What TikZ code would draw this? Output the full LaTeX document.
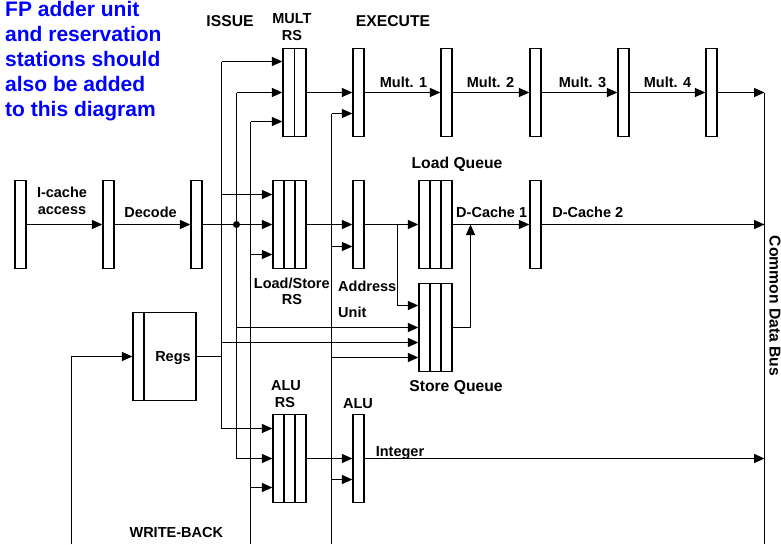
\documentclass[tikz,border=0pt]{standalone}
\usepackage{fontspec}
\setsansfont{Liberation Sans}
\usepackage{tikz}
\usetikzlibrary{arrows.meta,positioning,calc}

\tikzset{
  wire/.style={line width=1.3pt},
  feed/.style={wire, -{Triangle[length=10.5pt,width=9pt]}},
  latch/.style={draw, line width=1.3pt, minimum width=11pt, minimum height=88pt, inner sep=0pt},
  cells/.style={path picture={\foreach \f in {#1}
      \draw[line width=1.3pt] ($(path picture bounding box.north west)!\f!(path picture bounding box.north east)$)
        -- ($(path picture bounding box.south west)!\f!(path picture bounding box.south east)$);}},
  rsbox/.style={latch, minimum width=33pt, cells={0.333,0.667}},
  lbl/.style={font=\sffamily\bfseries\fontsize{14.5}{16}\selectfont, inner sep=0pt, anchor=base},
  head/.style={lbl, font=\sffamily\bfseries\fontsize{15.7}{17}\selectfont},
  note/.style={font=\sffamily\bfseries\fontsize{21}{25}\selectfont, text=blue, inner sep=0pt, anchor=base west}
}

\begin{document}
\begin{tikzpicture}[x=1pt, y=-1pt]
    \useasboundingbox (0,0) rectangle (781,544);

    % remark in the corner
    \foreach \txt [count=\i] in {FP adder unit, and reservation, stations should, also be added, to this diagram}
      \node[note] (note\i) at (5, {16+25.2*(\i-1)}) {\txt};

    % stage headings
    \node[head] (issuelbl) at (230,26.5) {ISSUE};
    \node[lbl] (multlbl) at (292,23.5) {MULT};
    \node[lbl] (multrslbl) at (292,40) {RS};
    \node[head] (execlbl) at (393,26.5) {EXECUTE};
    \node[lbl] (wblbl) at (176.3,537) {WRITE-BACK};

    % front end
    \node[latch] (ic) at (20.5,224.5) {};
    \node[latch] (dec) at (108.5,224.5) {};
    \node[latch] (iss) at (196.5,224.5) {};
    \node[lbl] (iclbl1) at (62,197) {I-cache};
    \node[lbl] (iclbl2) at (62,214) {access};
    \node[lbl] (declbl) at (150.5,217) {Decode};

    % multiplier pipe
    \node[latch, minimum width=23pt, cells={0.5}] (multrs) at (294.5,92.5) {};
    \node[latch] (ex) at (358.5,92.5) {};
    \node[latch] (m1) at (446.5,92.5) {};
    \node[latch] (m2) at (535.5,92.5) {};
    \node[latch] (m3) at (623.5,92.5) {};
    \node[latch] (m4) at (711.5,92.5) {};
    \node[lbl] (m1lbl) at (403.5,87) {Mult. 1};
    \node[lbl] (m2lbl) at (490.5,87) {Mult. 2};
    \node[lbl] (m3lbl) at (582.5,87) {Mult. 3};
    \node[lbl] (m4lbl) at (667.5,87) {Mult. 4};

    % load/store pipe
    \node[rsbox] (lsrs) at (289.5,224.5) {};
    \node[latch] (addr) at (358.5,224.5) {};
    \node[rsbox] (loadq) at (435.5,224.5) {};
    \node[latch] (dc) at (535.5,224.5) {};
    \node[rsbox] (storeq) at (435.5,327.5) {};
    \node[lbl] (lslbl1) at (291.8,288) {Load/Store};
    \node[lbl] (lslbl2) at (292,304) {RS};
    \node[lbl, anchor=base west] (addrlbl1) at (338,291) {Address};
    \node[lbl, anchor=base west] (addrlbl2) at (338,317) {Unit};
    \node[head] (lqlbl) at (457,168) {Load Queue};
    \node[head] (sqlbl) at (456,391) {Store Queue};
    \node[lbl] (dc1lbl) at (491.7,217) {D-Cache 1};
    \node[lbl] (dc2lbl) at (587.8,217) {D-Cache 2};

    % register file
    \node[latch, minimum width=63pt, cells={0.175}] (regs) at (164.5,356.5) {};
    \node[lbl] (regslbl) at (173,361) {Regs};

    % integer pipe
    \node[rsbox] (alurs) at (289.5,458.5) {};
    \node[latch] (alu) at (358.5,458.5) {};
    \node[lbl] (alurslbl1) at (286,390) {ALU};
    \node[lbl] (alurslbl2) at (285,407) {RS};
    \node[lbl] (alulbl) at (358,408) {ALU};
    \node[lbl] (intlbl) at (400,456) {Integer};

    \node[head, anchor=center, rotate=-90] (cdblbl) at (775,306) {Common Data Bus};

    % ports on the boxes
    \coordinate (mrs1) at ($(multrs.west)+(0,-31)$);
    \coordinate (mrs3) at ($(multrs.west)+(0,29)$);
    \coordinate (lrs1) at ($(lsrs.west)+(0,-30)$);
    \coordinate (lrs3) at ($(lsrs.west)+(0,30)$);
    \coordinate (ars1) at ($(alurs.west)+(0,-30)$);
    \coordinate (ars3) at ($(alurs.west)+(0,29)$);
    \coordinate (ex2) at ($(ex.west)+(0,21)$);
    \coordinate (addr2) at ($(addr.west)+(0,22)$);
    \coordinate (alu2) at ($(alu.west)+(0,21)$);
    \coordinate (sq1) at ($(storeq.west)+(0,-22)$);
    \coordinate (sq3) at ($(storeq.west)+(0,15)$);
    \coordinate (sq4) at ($(storeq.west)+(0,30)$);

    % trunks
    \coordinate (vA) at (221.5,61.5);
    \coordinate (vB) at (236.5,92.5);
    \coordinate (vC) at (250.5,121.5);
    \coordinate (vD) at (331.5,113.5);
    \coordinate (wb) at (71.5,544);
    \coordinate (cdb) at (764.5,92.5);
    \coordinate (abr) at (397.5,224.5);
    \coordinate (squp) at (470.5,224.5);

    % front end wires
    \draw[feed] (ic.east) -- (dec.west);
    \draw[feed] (dec.east) -- (iss.west);
    \draw[feed] (iss.east) -- (lsrs.west);
    \fill (vB |- iss.east) circle (3.5pt);

    % operands from Regs
    \draw[wire] (regs.east) -- (regs.east -| vA);
    \draw[wire] (vA) -- (vA |- ars1);
    \draw[feed] (vA) -- (mrs1);
    \draw[feed] (vA |- lrs1) -- (lrs1);
    \draw[feed] (vA |- ars1) -- (ars1);
    \draw[feed] (vA |- sq3) -- (sq3);

    % issued instructions
    \draw[wire] (vB) -- (vB |- alurs.west);
    \draw[feed] (vB) -- (multrs.west);
    \draw[feed] (vB |- alurs.west) -- (alurs.west);
    \draw[feed] (vB |- storeq.west) -- (storeq.west);

    % results coming back
    \draw[wire] (vC) -- (vC |- wb);
    \draw[feed] (vC) -- (mrs3);
    \draw[feed] (vC |- lrs3) -- (lrs3);
    \draw[feed] (vC |- ars3) -- (ars3);
    \draw[wire] (vD) -- (vD |- wb);
    \draw[feed] (vD) -- (ex2);
    \draw[feed] (vD |- addr2) -- (addr2);
    \draw[feed] (vD |- sq4) -- (sq4);
    \draw[feed] (vD |- alu2) -- (alu2);
    \draw[feed] (wb) |- (regs.west);

    % execute stages
    \draw[feed] (multrs.east) -- (ex.west);
    \draw[feed] (ex.east) -- (m1.west);
    \draw[feed] (m1.east) -- (m2.west);
    \draw[feed] (m2.east) -- (m3.west);
    \draw[feed] (m3.east) -- (m4.west);
    \draw[feed] (m4.east) -- (cdb);
    \draw[feed] (lsrs.east) -- (addr.west);
    \draw[feed] (addr.east) -- (loadq.west);
    \draw[feed] (abr) |- (sq1);
    \draw[feed] (loadq.east) -- (dc.west);
    \draw[feed] (storeq.east) -| (squp);
    \draw[feed] (dc.east) -- (cdb |- dc.east);
    \draw[feed] (alurs.east) -- (alu.west);
    \draw[feed] (alu.east) -- (cdb |- alu.east);

    % common data bus
    \draw[wire] (cdb) -- (cdb |- wb);
\end{tikzpicture}
\end{document}
